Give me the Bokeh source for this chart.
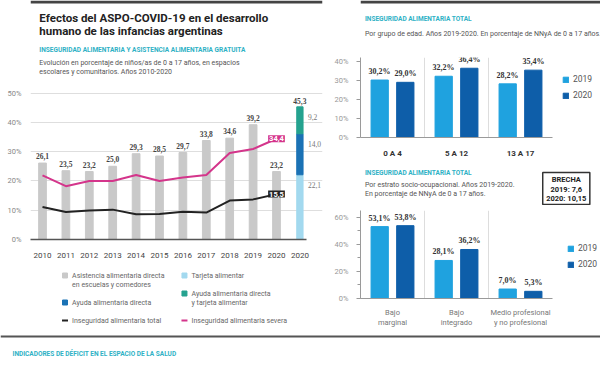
import numpy as np
from bokeh.plotting import figure
from bokeh.models import (ColumnDataSource, Range1d, LabelSet, Label, Legend, LegendItem,
                          FixedTicker, PrintfTickFormatter, Span, SingleIntervalTicker)
from bokeh.layouts import column, row
from bokeh.transform import dodge
from bokeh.embed import file_html
from bokeh.resources import INLINE

# ---------------- data ----------------
years = ["2010", "2011", "2012", "2013", "2014", "2015", "2016", "2017", "2018", "2019", "2020", "2020"]
asistencia = [26.1, 23.5, 23.2, 25.0, 29.3, 28.5, 29.7, 33.8, 34.6, 39.2, 23.2]
tarjeta_2020 = [22.1]
ayuda_directa_2020 = [14.0]
ayuda_y_tarjeta_2020 = [9.2]
inseg_total = [11.1, 9.4, 9.9, 10.2, 8.6, 8.7, 9.5, 9.2, 13.3, 13.7, 15.5]
inseg_severa = [21.9, 18.2, 20.0, 20.0, 22.0, 20.0, 21.2, 22.0, 29.5, 30.9, 34.4]

age_groups = ["0 A 4", "5 A 12", "13 A 17"]
age_2019 = [30.2, 32.2, 28.2]
age_2020 = [29.0, 36.4, 35.4]

strata = ["Bajo\nmarginal", "Bajo\nintegrado", "Medio profesional\ny no profesional"]
strata_2019 = [53.1, 28.1, 7.0]
strata_2020 = [53.8, 36.2, 5.3]

brecha_lines = ["BRECHA", "2019: 7,6", "2020: 10,15"]

# ---------------- style ----------------
FONT = "Roboto"
GRAY_BAR = "#c9c9c9"
TARJ = "#a3d9ef"
DIRECTA = "#1b72b5"
AMBAS = "#25a28f"
BLACK = "#222222"
PINK = "#d4358b"
C19 = "#1fa2df"
C20 = "#0e5ea9"
CYAN_T = "#2eb1c5"
DARK = "#222222"
GRAYTXT = "#555555"


def fmt(v):
    return f"{v:.1f}".replace(".", ",")


def text_fig(w, h, x0, y0):
    p = figure(width=w, height=h, x_range=Range1d(x0, x0 + w), y_range=Range1d(y0 + h, y0),
               x_axis_type=None, y_axis_type=None, toolbar_location=None,
               output_backend="svg", outline_line_color=None,
               min_border=0, min_border_left=0, min_border_right=0,
               min_border_top=0, min_border_bottom=0)
    return p


def put(p, x, y, txt, size, color, bold=False, align="left", baseline="middle"):
    p.add_layout(Label(x=x, y=y, text=txt, text_font=FONT, text_font_size=size,
                       text_color=color, text_font_style="bold" if bold else "normal",
                       text_align=align, text_baseline=baseline))


# ---------------- left header ----------------
head_l = text_fig(330, 80, 0, 0)
head_l.add_layout(Span(location=1.5, dimension="width", line_color="#444444", line_width=3))
put(head_l, 10, 17, "Efectos del ASPO-COVID-19 en el desarrollo", "11.5px", DARK, True)
put(head_l, 10, 30, "humano de las infancias argentinas", "11.5px", DARK, True)
put(head_l, 10, 49, "INSEGURIDAD ALIMENTARIA Y ASISTENCIA ALIMENTARIA GRATUITA", "6.5px", CYAN_T, True)
put(head_l, 10, 62, "Evolución en porcentaje de niños/as de 0 a 17 años, en espacios", "7px", GRAYTXT)
put(head_l, 10, 71, "escolares y comunitarios. Años 2010-2020", "7px", GRAYTXT)

# ---------------- left chart ----------------
p1 = figure(width=330, height=182, x_range=Range1d(-0.513, 11.966), y_range=Range1d(0, 51.9),
            toolbar_location=None, output_backend="svg", outline_line_color=None)
p1.min_border_left = 30
p1.min_border_right = 8
p1.min_border_top = 7
p1.min_border_bottom = 23

xi = list(range(len(asistencia)))
src_a = ColumnDataSource(dict(x=xi, y=asistencia, lab=[fmt(v) for v in asistencia]))
p1.vbar(x="x", top="y", width=0.33, color=GRAY_BAR, source=src_a)

stack_x = [len(asistencia)]
src_s = ColumnDataSource(dict(x=stack_x, tarjeta=tarjeta_2020, directa=ayuda_directa_2020,
                              ambas=ayuda_y_tarjeta_2020))
p1.vbar_stack(["tarjeta", "directa", "ambas"], x="x", width=0.27,
              color=[TARJ, DIRECTA, AMBAS], source=src_s)

p1.line(xi, inseg_severa, color=PINK, line_width=2)
p1.line(xi, inseg_total, color=BLACK, line_width=2)

p1.add_layout(LabelSet(x="x", y="y", text="lab", source=src_a, text_align="center",
                       text_baseline="bottom", y_offset=4, text_font=FONT,
                       text_font_size="7.5px", text_font_style="bold", text_color="#444444"))

seg_vals = [tarjeta_2020[0], ayuda_directa_2020[0], ayuda_y_tarjeta_2020[0]]
tops = list(np.cumsum(seg_vals))
src_seg = ColumnDataSource(dict(x=stack_x * 3, y=tops, lab=[fmt(v) for v in seg_vals]))
p1.add_layout(LabelSet(x="x", y="y", text="lab", source=src_seg, text_align="left",
                       text_baseline="middle", x_offset=8, y_offset=-10, text_font=FONT,
                       text_font_size="7.5px", text_color="#777777"))
src_tot = ColumnDataSource(dict(x=stack_x, y=[tops[-1]], lab=[fmt(tops[-1])]))
p1.add_layout(LabelSet(x="x", y="y", text="lab", source=src_tot, text_align="center",
                       text_baseline="bottom", y_offset=3, text_font=FONT,
                       text_font_size="7.5px", text_font_style="bold", text_color="#444444"))

last = len(inseg_severa) - 1
p1.add_layout(Label(x=last, y=inseg_severa[-1], text=fmt(inseg_severa[-1]), text_font=FONT,
                    text_font_size="7.5px", text_font_style="bold", text_color="white",
                    text_align="center", text_baseline="middle",
                    background_fill_color=PINK, padding=1))
p1.add_layout(Label(x=last, y=inseg_total[-1], text=fmt(inseg_total[-1]), text_font=FONT,
                    text_font_size="7.5px", text_font_style="bold", text_color="white",
                    text_align="center", text_baseline="middle",
                    background_fill_color=BLACK, padding=1))

p1.yaxis.ticker = FixedTicker(ticks=[0, 10, 20, 30, 40, 50])
p1.yaxis.formatter = PrintfTickFormatter(format="%d%%")
p1.yaxis.axis_line_color = None
p1.yaxis.major_tick_line_color = None
p1.yaxis.minor_tick_line_color = None
p1.yaxis.major_label_standoff = 3
p1.yaxis.major_label_text_font = FONT
p1.yaxis.major_label_text_font_size = "7.5px"
p1.yaxis.major_label_text_color = "#888888"

p1.xaxis.ticker = FixedTicker(ticks=list(range(len(years))))
p1.xaxis.major_label_overrides = {i: y for i, y in enumerate(years)}
p1.xaxis.axis_line_color = "#555555"
p1.xaxis.axis_line_width = 1.5
p1.xaxis.bounds = (-0.5, 11.3)
p1.xaxis.major_tick_line_color = None
p1.xaxis.minor_tick_line_color = None
p1.xaxis.major_label_standoff = 7
p1.xaxis.major_label_text_font = FONT
p1.xaxis.major_label_text_font_size = "8px"
p1.xaxis.major_label_text_color = "#444444"
p1.xgrid.visible = False
p1.ygrid.grid_line_color = "#dedede"

# ---------------- left legend ----------------
leg_l = text_fig(330, 68, 0, 262)
leg_entries = [
    (39, 275, "square", GRAY_BAR, ["Asistencia alimentaria directa", "en escuelas y comedores"]),
    (174, 275, "square", TARJ, ["Tarjeta alimentar"]),
    (39, 302, "square", DIRECTA, ["Ayuda alimentaria directa"]),
    (174, 293, "square", AMBAS, ["Ayuda alimentaria directa", "y tarjeta alimentar"]),
    (39, 320, "dash", BLACK, ["Inseguridad alimentaria total"]),
    (174, 320, "dash", PINK, ["Inseguridad alimentaria severa"]),
]
for (lx, ly, mk, col, lines) in leg_entries:
    if mk == "square":
        leg_l.scatter([lx], [ly], marker="square", size=5, color=col)
    else:
        leg_l.scatter([lx], [ly], marker="dash", size=6, line_color=col, line_width=2.2)
    for k, t in enumerate(lines):
        put(leg_l, lx + 8, ly + 9 * k, t, "7px", "#666666")

# ---------------- right header 1 ----------------
head_r1 = text_fig(270, 48, 330, 0)
head_r1.add_layout(Span(location=1.5, dimension="width", line_color="#444444", line_width=3))
put(head_r1, 335, 18, "INSEGURIDAD ALIMENTARIA TOTAL", "6.5px", CYAN_T, True)
put(head_r1, 335, 33, "Por grupo de edad. Años 2019-2020. En porcentaje de NNyA de 0 a 17 años.", "7px", GRAYTXT)


def group_chart(h, ymax, cats, v19, v20, top, bottom, interval, nminor, legend_loc, xlab_style):
    p = figure(width=270, height=h, x_range=Range1d(-0.5, 3.25), y_range=Range1d(0, ymax),
               toolbar_location=None, output_backend="svg", outline_line_color=None)
    p.min_border_left = 30
    p.min_border_right = 0
    p.min_border_top = top
    p.min_border_bottom = bottom
    xs = list(range(len(cats)))
    src = ColumnDataSource(dict(x=xs, a=v19, b=v20,
                                la=[fmt(v) + "%" for v in v19], lb=[fmt(v) + "%" for v in v20]))
    r19 = p.vbar(x=dodge("x", -0.2), top="a", width=0.27, color=C19, source=src)
    r20 = p.vbar(x=dodge("x", 0.2), top="b", width=0.27, color=C20, source=src)
    for ycol, tcol, off in (("a", "la", -13), ("b", "lb", 13)):
        p.add_layout(LabelSet(x="x", y=ycol, text=tcol, source=src, x_offset=off, y_offset=4,
                              text_align="center", text_baseline="bottom", text_font=FONT,
                              text_font_size="8px", text_font_style="bold", text_color="#333333"))
    p.yaxis.ticker = SingleIntervalTicker(interval=interval, num_minor_ticks=nminor)
    p.yaxis.formatter = PrintfTickFormatter(format="%d%%")
    p.yaxis.axis_line_color = "#9a9a9a"
    p.yaxis.major_tick_line_color = "#9a9a9a"
    p.yaxis.major_tick_out = 4
    p.yaxis.major_tick_in = 0
    if nminor:
        p.yaxis.minor_tick_line_color = "#9a9a9a"
        p.yaxis.minor_tick_out = 3
        p.yaxis.minor_tick_in = 0
    else:
        p.yaxis.minor_tick_line_color = None
    p.yaxis.major_label_standoff = 8
    p.yaxis.major_label_text_font = FONT
    p.yaxis.major_label_text_font_size = "7.5px"
    p.yaxis.major_label_text_color = "#999999"

    p.xaxis.ticker = FixedTicker(ticks=xs)
    p.xaxis.major_label_overrides = {i: c for i, c in enumerate(cats)}
    p.xaxis.bounds = (-0.5, len(cats) - 0.5)
    p.xaxis.axis_line_color = "#9a9a9a"
    p.xaxis.major_tick_line_color = None
    p.xaxis.minor_tick_line_color = None
    p.xaxis.major_label_text_font = FONT
    p.xaxis.major_label_standoff = xlab_style[0]
    p.xaxis.major_label_text_font_size = xlab_style[1]
    p.xaxis.major_label_text_font_style = xlab_style[2]
    p.xaxis.major_label_text_color = xlab_style[3]

    p.xgrid.ticker = FixedTicker(ticks=[i + 0.5 for i in xs[:-1]])
    p.xgrid.grid_line_color = "#dddddd"
    p.ygrid.visible = False

    legend = Legend(items=[LegendItem(label="2019", renderers=[r19]),
                           LegendItem(label="2020", renderers=[r20])],
                    location=legend_loc, glyph_width=7, glyph_height=7, label_height=10,
                    label_standoff=4, spacing=6, padding=0, margin=0,
                    border_line_alpha=0, background_fill_alpha=0,
                    label_text_font=FONT, label_text_font_size="8.5px",
                    label_text_color="#555555")
    p.add_layout(legend)
    return p


r1 = group_chart(112, 42.05, age_groups, age_2019, age_2020, 9, 21, 10, 0, (202, 37),
                 (5, "8px", "bold", "#333333"))

# ---------------- right header 2 ----------------
head_r2 = text_fig(270, 45, 330, 160)
put(head_r2, 335, 172, "INSEGURIDAD ALIMENTARIA TOTAL", "6.5px", CYAN_T, True)
put(head_r2, 335, 184, "Por estrato socio-ocupacional. Años 2019-2020.", "7px", GRAYTXT)
put(head_r2, 335, 193, "En porcentaje de NNyA de 0 a 17 años.", "7px", GRAYTXT)
head_r2.quad(left=[535], right=[588], top=[172], bottom=[204], fill_color=None,
             line_color="#333333", line_width=1.5)
for k, t in enumerate(brecha_lines):
    put(head_r2, 561.5, 179 + 9.5 * k, t, "7.5px", DARK, True, align="center")

r2 = group_chart(125, 65, strata, strata_2019, strata_2020, 5, 29, 20, 2, (207, 29),
                 (3, "7.5px", "normal", "#777777"))

# ---------------- bottom strip ----------------
bottom = text_fig(600, 34, 0, 330)
bottom.add_layout(Span(location=336, dimension="width", line_color="#555555", line_width=2))
put(bottom, 12, 353, "INDICADORES DE DÉFICIT EN EL ESPACIO DE LA SALUD", "6.5px", CYAN_T, True)

layout = column(row(column(head_l, p1, leg_l), column(head_r1, r1, head_r2, r2)), bottom)

with open("out.html", "w") as f:
    f.write(file_html(layout, INLINE))
